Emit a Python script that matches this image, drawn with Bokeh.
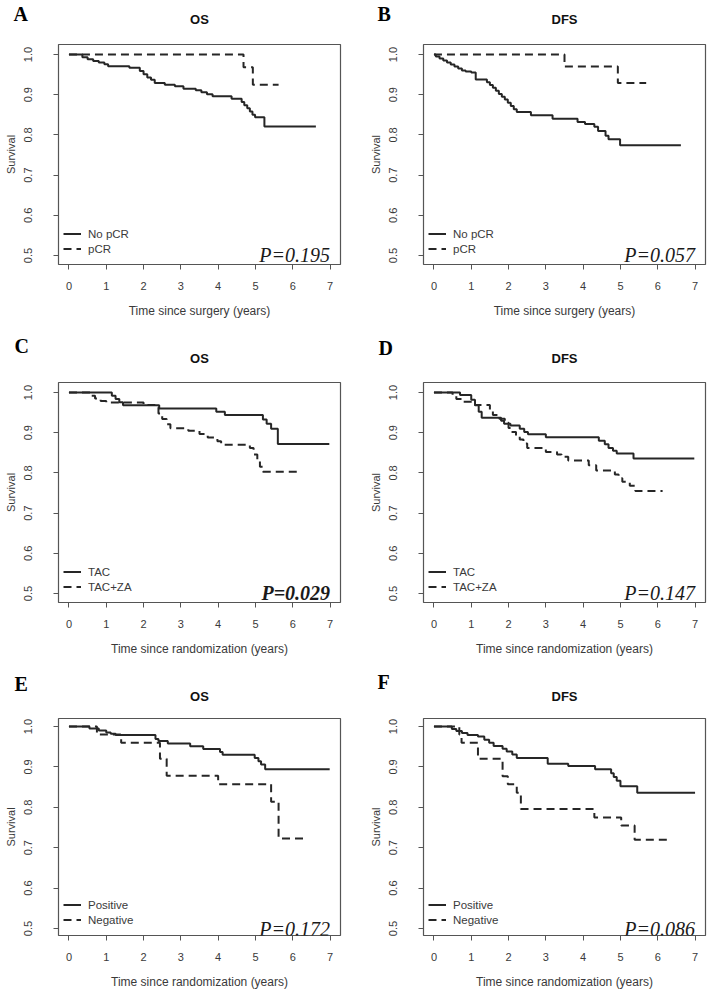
from bokeh.plotting import figure
from bokeh.models import Label, Legend, LegendItem, FixedTicker, Range1d
from bokeh.layouts import column, row
from bokeh.embed import file_html
from bokeh.resources import INLINE

# ---------------- data ----------------
X_TICKS = [0, 1, 2, 3, 4, 5, 6, 7]
X_TICK_LABELS = ["0", "1", "2", "3", "4", "5", "6", "7"]
Y_TICKS = [0.5, 0.6, 0.7, 0.8, 0.9, 1.0]
Y_TICK_LABELS = ["0.5", "0.6", "0.7", "0.8", "0.9", "1.0"]
Y_LABEL = "Survival"

# Panel A: OS by pCR
A_GROUPS = ["No pCR", "pCR"]
A_NOPCR_T = [0.36, 0.5, 0.65, 0.8, 0.95, 1.05, 1.62, 1.9, 2.0, 2.1, 2.2, 2.3, 2.57, 2.84, 3.07, 3.4,
             3.55, 3.7, 3.85, 4.36, 4.63, 4.7, 4.78, 4.85, 4.92, 4.99, 5.24]
A_NOPCR_S = [0.993, 0.988, 0.984, 0.980, 0.976, 0.971, 0.967, 0.959, 0.951, 0.943, 0.937, 0.929, 0.925,
             0.921, 0.915, 0.911, 0.906, 0.901, 0.896, 0.890, 0.882, 0.874, 0.866, 0.858, 0.850, 0.844, 0.821]
A_NOPCR_END = 6.62
A_PCR_T = [4.68, 4.93]
A_PCR_S = [0.968, 0.925]
A_PCR_END = 5.62

# Panel B: DFS by pCR
B_GROUPS = ["No pCR", "pCR"]
B_NOPCR_T = [0.05, 0.15, 0.25, 0.35, 0.45, 0.55, 0.65, 0.75, 0.85, 1.0, 1.12, 1.42, 1.5, 1.58, 1.66, 1.74,
             1.82, 1.9, 1.98, 2.06, 2.14, 2.22, 2.6, 3.18, 3.85, 4.05, 4.3, 4.4, 4.6, 4.68, 4.99]
B_NOPCR_S = [0.995, 0.990, 0.985, 0.980, 0.975, 0.970, 0.965, 0.960, 0.958, 0.955, 0.938, 0.931, 0.924,
             0.917, 0.910, 0.902, 0.895, 0.888, 0.880, 0.872, 0.864, 0.857, 0.849, 0.840, 0.832, 0.827,
             0.820, 0.810, 0.798, 0.789, 0.774]
B_NOPCR_END = 6.62
B_PCR_T = [3.5, 4.93]
B_PCR_S = [0.970, 0.929]
B_PCR_END = 5.69

# Panel C: OS by arm
C_GROUPS = ["TAC", "TAC+ZA"]
C_TAC_T = [1.15, 1.25, 1.35, 1.45, 2.42, 3.95, 4.18, 5.2, 5.3, 5.42, 5.6]
C_TAC_S = [0.992, 0.984, 0.976, 0.968, 0.960, 0.952, 0.944, 0.933, 0.922, 0.910, 0.872]
C_TAC_END = 6.98
C_ZA_T = [0.58, 0.7, 0.85, 1.0, 2.0, 2.3, 2.4, 2.5, 2.62, 2.72, 3.2, 3.5, 3.72, 3.98, 4.08, 4.85, 4.95,
          5.05, 5.12, 5.2]
C_ZA_S = [0.992, 0.985, 0.979, 0.975, 0.969, 0.962, 0.948, 0.934, 0.921, 0.911, 0.905, 0.897, 0.888,
          0.879, 0.870, 0.862, 0.846, 0.830, 0.815, 0.803]
C_ZA_END = 6.22

# Panel D: DFS by arm
D_GROUPS = ["TAC", "TAC+ZA"]
D_TAC_T = [0.7, 1.0, 1.1, 1.2, 1.28, 1.8, 1.88, 2.05, 2.3, 2.42, 2.52, 3.0, 4.42, 4.58, 4.68, 4.8, 4.9, 5.35]
D_TAC_S = [0.994, 0.982, 0.968, 0.952, 0.937, 0.930, 0.922, 0.918, 0.910, 0.902, 0.896, 0.889, 0.880,
           0.871, 0.862, 0.855, 0.848, 0.836]
D_TAC_END = 6.98
D_ZA_T = [0.5, 0.6, 0.75, 1.1, 1.5, 1.58, 1.75, 1.9, 2.0, 2.08, 2.2, 2.3, 2.4, 2.5, 3.0, 3.3, 3.42, 3.6,
          4.15, 4.35, 4.85, 4.95, 5.05, 5.25, 5.4]
D_ZA_S = [0.992, 0.984, 0.977, 0.969, 0.953, 0.944, 0.935, 0.925, 0.912, 0.902, 0.892, 0.883, 0.873,
          0.862, 0.852, 0.846, 0.840, 0.831, 0.819, 0.806, 0.796, 0.787, 0.778, 0.768, 0.755]
D_ZA_END = 6.13

# Panel E: OS by status
E_GROUPS = ["Positive", "Negative"]
E_POS_T = [0.55, 0.8, 1.0, 1.12, 1.25, 2.32, 2.4, 2.65, 3.25, 3.6, 4.05, 4.12, 4.98, 5.08, 5.15, 5.26]
E_POS_S = [0.995, 0.990, 0.985, 0.982, 0.979, 0.969, 0.964, 0.958, 0.951, 0.944, 0.937, 0.930, 0.922,
           0.914, 0.906, 0.894]
E_POS_END = 6.99
E_NEG_T = [0.75, 1.4, 2.44, 2.62, 4.0, 5.42, 5.62]
E_NEG_S = [0.980, 0.960, 0.920, 0.878, 0.857, 0.814, 0.723]
E_NEG_END = 6.32

# Panel F: DFS by status
F_GROUPS = ["Positive", "Negative"]
F_POS_T = [0.48, 0.6, 0.75, 0.9, 1.18, 1.35, 1.48, 1.6, 1.84, 1.95, 2.1, 2.22, 3.05, 3.6, 4.32, 4.75,
           4.82, 4.9, 5.0, 5.45]
F_POS_S = [0.994, 0.989, 0.984, 0.979, 0.975, 0.967, 0.960, 0.952, 0.945, 0.938, 0.931, 0.922, 0.908,
           0.902, 0.894, 0.884, 0.875, 0.866, 0.852, 0.836]
F_POS_END = 7.0
F_NEG_T = [0.68, 0.74, 1.18, 1.84, 1.98, 2.22, 2.33, 4.3, 5.02, 5.38]
F_NEG_S = [0.980, 0.960, 0.920, 0.877, 0.857, 0.836, 0.796, 0.775, 0.755, 0.720]
F_NEG_END = 6.33

# ---------------- style ----------------
LINE_COL = "#262626"
AXIS_COL = "#555555"
TEXT_COL = "#3a3a3a"
X_LO, X_HI = -0.28, 7.28
FRAME_W = 282
H_TITLE_BOX = 7   # effective height of the title label box in the top panel


def step_xy(t, s, end):
    xs = [0.0] + list(t) + [end]
    ys = [1.0] + list(s) + [s[-1]]
    return xs, ys


def panel(letter, title, xlabel, groups, solid, dashed, ptext, pbold,
          bl, br, bt, bb, fh, ylo, yhi, letter_dx, letter_up, title_up):
    p = figure(frame_width=FRAME_W, frame_height=fh,
               x_range=Range1d(X_LO, X_HI), y_range=Range1d(ylo, yhi),
               output_backend="svg", toolbar_location=None, tools="",
               min_border_left=bl, min_border_right=br, min_border_top=bt, min_border_bottom=bb,
               background_fill_color="white", border_fill_color="white")
    p.grid.visible = False
    p.outline_line_color = AXIS_COL
    p.outline_line_width = 1.2

    for ax in (p.xaxis[0], p.yaxis[0]):
        ax.axis_line_color = None
        ax.major_tick_line_color = AXIS_COL
        ax.major_tick_in = 0
        ax.major_tick_out = 5
        ax.minor_tick_line_color = None
        ax.major_label_text_font = "Liberation Sans"
        ax.major_label_text_font_size = "11px"
        ax.major_label_text_color = TEXT_COL
        ax.axis_label_text_font = "Liberation Sans"
        ax.axis_label_text_font_style = "normal"
        ax.axis_label_text_color = TEXT_COL

    xa = p.xaxis[0]
    xa.ticker = FixedTicker(ticks=X_TICKS)
    xa.major_label_overrides = {float(k): v for k, v in zip(X_TICKS, X_TICK_LABELS)}
    xa.major_label_standoff = 12
    xa.axis_label = xlabel
    xa.axis_label_text_font_size = "12px"
    xa.axis_label_standoff = 11

    ya = p.yaxis[0]
    ya.ticker = FixedTicker(ticks=Y_TICKS)
    ya.major_label_overrides = {k: v for k, v in zip(Y_TICKS, Y_TICK_LABELS)}
    ya.major_label_orientation = "vertical"
    ya.major_label_standoff = 21
    ya.axis_label = Y_LABEL
    ya.axis_label_text_font_size = "11px"
    ya.axis_label_standoff = 5

    xs, ys = step_xy(*solid)
    r1 = p.step(xs, ys, mode="after", line_color=LINE_COL, line_width=2)
    xs, ys = step_xy(*dashed)
    r2 = p.step(xs, ys, mode="after", line_color=LINE_COL, line_width=2, line_dash="8 5")

    leg = Legend(items=[LegendItem(label=groups[0], renderers=[r1]),
                        LegendItem(label=groups[1], renderers=[r2])],
                 location=(5, 8), margin=0, padding=6, spacing=0,
                 label_height=15, glyph_height=15, glyph_width=18, label_standoff=7,
                 label_text_font="Liberation Sans", label_text_font_size="11.5px",
                 label_text_color=TEXT_COL, background_fill_alpha=0, border_line_color=None)
    p.add_layout(leg)

    p.add_layout(Label(x=7, y=0.5, text=ptext, text_align="right", text_baseline="alphabetic",
                       text_font="Liberation Serif", text_font_style="bold italic" if pbold else "italic",
                       text_font_size="20px", text_color="#1a1a1a"))
    # title and panel letter live in the top panel (screen units from that panel's box)
    p.add_layout(Label(x=FRAME_W / 2, y=title_up, x_units="screen", y_units="screen", text=title,
                       text_align="center", text_baseline="middle",
                       text_font="Liberation Sans", text_font_style="bold",
                       text_font_size="13px", text_color="#111111"), "above")
    p.add_layout(Label(x=letter_dx, y=letter_up - H_TITLE_BOX, x_units="screen", y_units="screen",
                       text=letter, text_align="left", text_baseline="alphabetic",
                       text_font="Liberation Serif", text_font_style="bold",
                       text_font_size="20px", text_color="black"), "above")
    return p


XL1 = "Time since surgery (years)"
XL2 = "Time since randomization (years)"

YR1 = (0.4776, 1.0249)
YR3 = (0.4827, 1.0198)

pA = panel("A", "OS", XL1, A_GROUPS, (A_NOPCR_T, A_NOPCR_S, A_NOPCR_END), (A_PCR_T, A_PCR_S, A_PCR_END),
           "P=0.195", False, 58, 14, 44, 69, 220, *YR1, -45, 23, 25)
pB = panel("B", "DFS", XL1, B_GROUPS, (B_NOPCR_T, B_NOPCR_S, B_NOPCR_END), (B_PCR_T, B_PCR_S, B_PCR_END),
           "P=0.057", False, 69, 4, 44, 69, 220, *YR1, -46, 23, 25)
pC = panel("C", "OS", XL2, C_GROUPS, (C_TAC_T, C_TAC_S, C_TAC_END), (C_ZA_T, C_ZA_S, C_ZA_END),
           "P=0.029", True, 58, 14, 49, 64, 220, *YR1, -44, 29, 24)
pD = panel("D", "DFS", XL2, D_GROUPS, (D_TAC_T, D_TAC_S, D_TAC_END), (D_ZA_T, D_ZA_S, D_ZA_END),
           "P=0.147", False, 69, 4, 49, 64, 220, *YR1, -45, 27, 24)
pE = panel("E", "OS", XL2, E_GROUPS, (E_POS_T, E_POS_S, E_POS_END), (E_NEG_T, E_NEG_S, E_NEG_END),
           "P=0.172", False, 58, 14, 52, 57, 217, *YR3, -44, 27, 22)
pF = panel("F", "DFS", XL2, F_GROUPS, (F_POS_T, F_POS_S, F_POS_END), (F_NEG_T, F_NEG_S, F_NEG_END),
           "P=0.086", False, 69, 4, 52, 57, 217, *YR3, -46, 29, 22)

layout = column(row(pA, pB, spacing=0), row(pC, pD, spacing=0), row(pE, pF, spacing=0), spacing=0)

with open("out.html", "w") as f:
    f.write(file_html(layout, INLINE))
